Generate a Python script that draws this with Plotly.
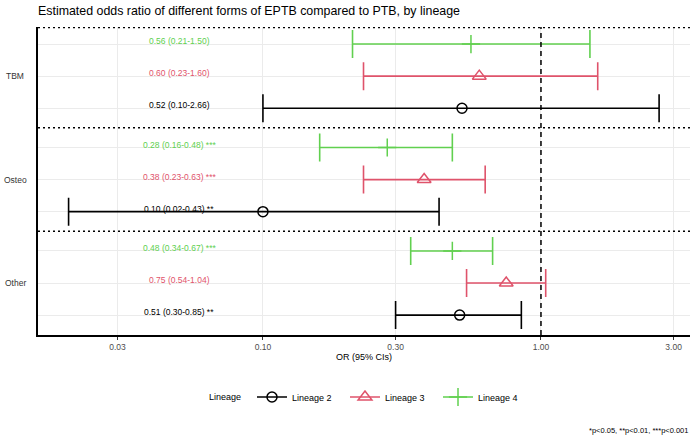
import plotly.graph_objects as go
import numpy as np

# ---- data ----
outcomes = ["TBM", "Osteo", "Other"]
outcome_pos = [3, 2, 1]
lineages = ["Lineage 2", "Lineage 3", "Lineage 4"]
lineage_offset = [-0.31, 0.0, 0.31]
colors = ["#000000", "#DF536B", "#61D04F"]
symbols = ["circle-open", "triangle-up-open", "cross-thin-open"]
msizes = [10, 12, 13]

or_l2 = [0.52, 0.10, 0.51]
lo_l2 = [0.10, 0.02, 0.30]
hi_l2 = [2.66, 0.43, 0.85]
stars_l2 = ["", "**", "**"]

or_l3 = [0.60, 0.38, 0.75]
lo_l3 = [0.23, 0.23, 0.54]
hi_l3 = [1.60, 0.63, 1.04]
stars_l3 = ["", "***", ""]

or_l4 = [0.56, 0.28, 0.48]
lo_l4 = [0.21, 0.16, 0.34]
hi_l4 = [1.50, 0.48, 0.67]
stars_l4 = ["", "***", "***"]

x_ticks = [0.03, 0.1, 0.3, 1, 3]
x_ticklabels = ["0.03", "0.10", "0.30", "1.00", "3.00"]
label_x = 0.05
ref_line = 1.0

series = [
    (or_l2, lo_l2, hi_l2, stars_l2),
    (or_l3, lo_l3, hi_l3, stars_l3),
    (or_l4, lo_l4, hi_l4, stars_l4),
]

FONT = "Liberation Sans"
fig = go.Figure()
annotations = []
row_ys = []

for i, (orv, lo, hi, st) in enumerate(series):
    ys = [p + lineage_offset[i] for p in outcome_pos]
    row_ys += ys
    fig.add_trace(go.Scatter(
        x=orv, y=ys, mode="markers",
        marker=dict(symbol=symbols[i], size=msizes[i], color=colors[i],
                    line=dict(width=1.5, color=colors[i])),
        error_x=dict(type="data", symmetric=False,
                     array=[h - o for h, o in zip(hi, orv)],
                     arrayminus=[o - l for o, l in zip(orv, lo)],
                     color=colors[i], thickness=1.6, width=14),
        showlegend=False, legendgroup=lineages[i], hoverinfo="skip"))
    # legend entry
    fig.add_trace(go.Scatter(
        x=[None], y=[None], mode="lines+markers", name=lineages[i],
        legendgroup=lineages[i],
        line=dict(color=colors[i], width=1.5),
        marker=dict(symbol=symbols[i], size=msizes[i], color=colors[i],
                    line=dict(width=1.5, color=colors[i]))))
    for o, l, h, s, y in zip(orv, lo, hi, st, ys):
        txt = f"{o:.2f} ({l:.2f}-{h:.2f})" + (f" {s}" if s else "")
        annotations.append(dict(x=np.log10(label_x), y=y, xref="x", yref="y",
                                text=txt, showarrow=False, yshift=3,
                                font=dict(size=8.5, color=colors[i], family=FONT),
                                xanchor="center", yanchor="middle"))

# group labels (centered)
for name, p in zip(outcomes, outcome_pos):
    annotations.append(dict(x=-23 / 652, y=p, xref="paper", yref="y", text=name,
                            showarrow=False, xanchor="center", yanchor="middle",
                            font=dict(size=8.5, color="#333333", family=FONT)))

# legend title
annotations.append(dict(x=(224.5 - 38) / 652, y=(335 - 397) / 308, xref="paper", yref="paper",
                        text="Lineage", showarrow=False, xanchor="center", yanchor="middle",
                        font=dict(size=9, color="#000000", family=FONT)))

# footnote
annotations.append(dict(x=1.0, y=(335 - 430) / 308, xref="paper", yref="paper",
                        text="*p<0.05, **p<0.01, ***p<0.001", showarrow=False,
                        xanchor="right", yanchor="middle",
                        font=dict(size=7.5, color="#000000", family=FONT)))

shapes = []
for yv in [1.5, 2.5, 3.47]:
    shapes.append(dict(type="line", xref="paper", yref="y", x0=0, x1=1, y0=yv, y1=yv,
                       line=dict(color="black", width=1.5, dash="2px,3px")))
shapes.append(dict(type="line", xref="x", yref="paper", x0=ref_line, x1=ref_line, y0=0, y1=1,
                   line=dict(color="black", width=1.5, dash="5px,4px")))

fig.update_layout(
    width=700, height=437,
    margin=dict(l=38, r=10, t=27, b=102),
    plot_bgcolor="white", paper_bgcolor="white",
    font=dict(family=FONT, size=9, color="#000000"),
    title=dict(text="Estimated odds ratio of different forms of EPTB compared to PTB, by lineage",
               x=38 / 700, xanchor="left", xref="container",
               y=1 - 11 / 437, yanchor="middle", yref="container",
               font=dict(size=12.4, color="#000000", family=FONT)),
    xaxis=dict(type="log", range=[-1.809, 0.536], tickvals=x_ticks, ticktext=x_ticklabels,
               showgrid=True, gridcolor="#EBEBEB", gridwidth=1,
               showline=True, linecolor="black", linewidth=1.5,
               ticks="outside", ticklen=3, tickcolor="#333333", tickwidth=1,
               tickfont=dict(size=8.5, color="#4D4D4D"), zeroline=False, automargin=False,
               title=dict(text="OR (95% CIs)", standoff=3,
                          font=dict(size=9, color="#000000"))),
    yaxis=dict(range=[0.4976, 3.475], tickvals=row_ys, ticktext=[""] * len(row_ys),
               showgrid=True, gridcolor="#EBEBEB", gridwidth=1,
               showline=True, linecolor="black", linewidth=1.5,
               ticks="", zeroline=False, automargin=False),
    legend=dict(orientation="h", xref="container", yref="container",
                x=252 / 700, xanchor="left", y=1 - 397 / 437, yanchor="middle",
                itemwidth=30, entrywidth=48, entrywidthmode="pixels",
                font=dict(size=9, color="#000000")),
    annotations=annotations, shapes=shapes,
)

fig.write_html("out.html", config={"displayModeBar": False},
               post_script="document.body.style.margin='0';document.body.style.overflow='hidden';")
